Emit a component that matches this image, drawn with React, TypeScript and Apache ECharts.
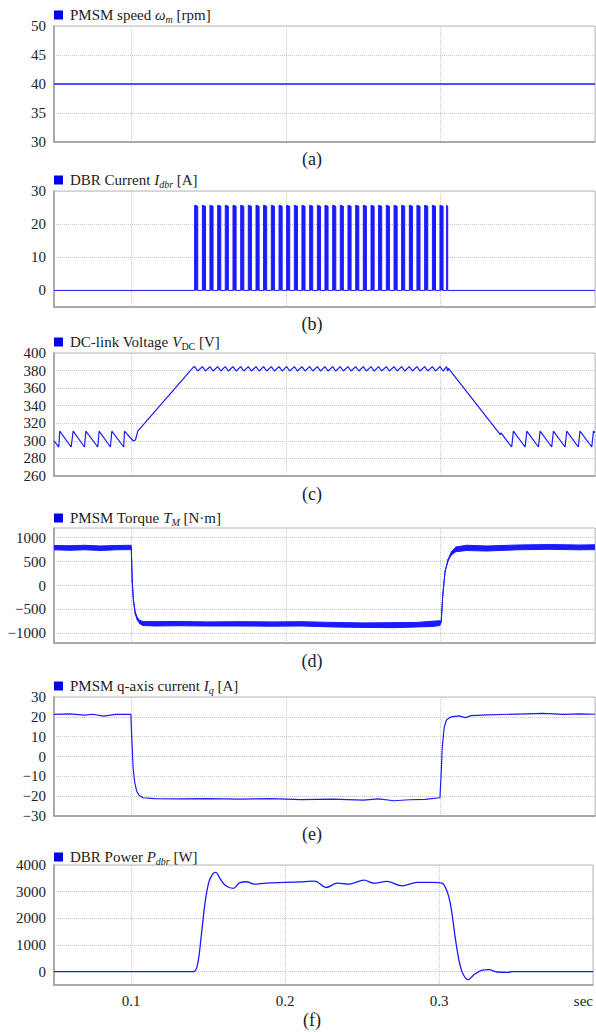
import React, { useEffect, useRef } from 'react';
import * as echarts from 'echarts';

const FONT = 'Liberation Serif';
const BLUE = '#1a1aff';
const ICON_BLUE = '#0000ee';
const GRID_C = '#cacaca';
const T = 'rgba(0,0,0,0)';

const X_MIN = 0.05;
const X_MAX = 0.4;

// (a) PMSM speed
const speedT = [0.05, 0.4];
const speedV = [40, 40];

// (b) DBR current pulses
const pulseOn = [0.1410, 0.1460, 0.1509, 0.1559, 0.1608, 0.1658, 0.1708, 0.1757, 0.1807, 0.1856, 0.1906, 0.1956, 0.2005, 0.2055, 0.2104, 0.2154, 0.2204, 0.2253, 0.2303, 0.2352, 0.2402, 0.2452, 0.2501, 0.2551, 0.2600, 0.2650, 0.2700, 0.2749, 0.2799, 0.2848, 0.2898, 0.2948, 0.2997, 0.3040];
const pulseOff = [0.1430, 0.1480, 0.1529, 0.1579, 0.1628, 0.1678, 0.1728, 0.1777, 0.1827, 0.1876, 0.1926, 0.1976, 0.2025, 0.2075, 0.2124, 0.2174, 0.2224, 0.2273, 0.2323, 0.2372, 0.2422, 0.2472, 0.2521, 0.2571, 0.2620, 0.2670, 0.2720, 0.2769, 0.2819, 0.2868, 0.2918, 0.2968, 0.3017, 0.3047];
const idbrTop = [25.7, 25.4];

// (c) DC-link voltage
const vdcPreT = [0.05, 0.0531, 0.0537, 0.0611, 0.0624, 0.0697, 0.0706, 0.0783, 0.0792, 0.0865, 0.0874, 0.0951, 0.0956, 0.1007, 0.1012, 0.1027, 0.1042, 0.1402];
const vdcPreV = [300, 293, 311, 293, 311, 293, 311, 293, 311, 293, 311, 293, 311, 301, 300, 301, 311, 384];
const vdcHigh = 384.5;
const vdcLow = 379.5;
const vdcPostT = [0.3052, 0.3387, 0.3392, 0.3461, 0.3472, 0.3548, 0.3559, 0.3634, 0.3645, 0.3720, 0.3731, 0.3806, 0.3817, 0.3892, 0.3903, 0.3979, 0.3990, 0.4];
const vdcPostV = [382.5, 307, 309, 293, 311, 293, 311, 293, 311, 293, 311, 293, 311, 293, 311, 293, 311, 309.5];

// (d) PMSM torque (noise band envelope)
const torqueT = [0.05, 0.06, 0.07, 0.08, 0.09, 0.0997, 0.1000, 0.1006, 0.1014, 0.1026, 0.1039, 0.1055, 0.1076, 0.115, 0.13, 0.15, 0.17, 0.19, 0.21, 0.23, 0.25, 0.27, 0.285, 0.295, 0.2995, 0.3005, 0.3015, 0.3030, 0.3050, 0.3072, 0.310, 0.317, 0.33, 0.35, 0.37, 0.39, 0.4];
const torqueHi = [835, 830, 840, 825, 835, 840, 790, 100, -300, -560, -670, -730, -750, -755, -750, -760, -755, -760, -755, -770, -780, -775, -770, -745, -735, -760, -200, 300, 550, 710, 805, 840, 825, 845, 855, 845, 850];
const torqueLo = [745, 735, 745, 730, 745, 750, 770, 80, -330, -600, -720, -800, -835, -845, -840, -845, -845, -850, -845, -865, -875, -880, -865, -855, -835, -770, -210, 290, 520, 640, 705, 730, 720, 745, 755, 745, 750];

// (e) PMSM q-axis current
const iqT = [0.05, 0.06, 0.07, 0.075, 0.082, 0.09, 0.0997, 0.1004, 0.1012, 0.1022, 0.1035, 0.1050, 0.1076, 0.115, 0.13, 0.15, 0.17, 0.19, 0.21, 0.23, 0.25, 0.26, 0.27, 0.28, 0.29, 0.2997, 0.3004, 0.3012, 0.3025, 0.3040, 0.3070, 0.3120, 0.3160, 0.3200, 0.3300, 0.3500, 0.3660, 0.3800, 0.3900, 0.4];
const iqV = [21.2, 21.5, 20.9, 21.3, 20.4, 21.2, 21.3, 8, -6, -13, -17.5, -19.5, -20.8, -21.2, -21.4, -21.2, -21.5, -21.2, -21.7, -21.5, -22.0, -21.4, -22.3, -21.8, -21.6, -20.8, -10, 5, 15, 18.5, 20, 20.5, 19.6, 20.6, 21.0, 21.4, 21.7, 21.2, 21.5, 21.3];

// (f) DBR power
const powT = [0.05, 0.1405, 0.1432, 0.1456, 0.1481, 0.1505, 0.1530, 0.1550, 0.1580, 0.1616, 0.1665, 0.1702, 0.1750, 0.1799, 0.1873, 0.1996, 0.2119, 0.2193, 0.2267, 0.2340, 0.2414, 0.2513, 0.2575, 0.2661, 0.2760, 0.2858, 0.2956, 0.3018, 0.3055, 0.3080, 0.3104, 0.3129, 0.3153, 0.3190, 0.3227, 0.3276, 0.3326, 0.3375, 0.3449, 0.3474, 0.4];
const powV = [0, 0, 264, 1333, 2590, 3346, 3660, 3723, 3472, 3220, 3120, 3320, 3371, 3283, 3320, 3346, 3371, 3396, 3157, 3320, 3283, 3434, 3320, 3384, 3220, 3346, 3346, 3320, 2968, 2340, 1333, 453, -50, -302, -113, 50, 75, -13, -25, 0, 0];

// Layout of the six panels
const panels = [
  { top: 26, height: 116, legendC: 15, capC: 159, cap: '(a)', name: 'PMSM speed', legend: 'PMSM speed {i|ω}{si|m} [rpm]', yMin: 30, yMax: 50, yInt: 5, labelEvery: 5, split: [GRID_C] },
  { top: 191, height: 116, legendC: 180, capC: 324, cap: '(b)', name: 'DBR Current', legend: 'DBR Current {i|I}{si|dbr} [A]', yMin: -5, yMax: 30, yInt: 5, labelEvery: 10, split: [T, GRID_C] },
  { top: 353, height: 123, legendC: 342, capC: 494, cap: '(c)', name: 'DC-link Voltage', legend: 'DC-link Voltage {i|V}{s|DC} [V]', yMin: 260, yMax: 400, yInt: 20, labelEvery: 20, split: [GRID_C] },
  { top: 528, height: 115, legendC: 518, capC: 661, cap: '(d)', name: 'PMSM Torque', legend: 'PMSM Torque {i|T}{si|M} [N·m]', yMin: -1200, yMax: 1200, yInt: 100, labelEvery: 500, split: [T, T, GRID_C, T, T] },
  { top: 697, height: 119, legendC: 686, capC: 834, cap: '(e)', name: 'PMSM q-axis current', legend: 'PMSM q-axis current {i|I}{si|q} [A]', yMin: -30, yMax: 30, yInt: 10, labelEvery: 10, split: [GRID_C] },
  { top: 865, height: 120, legendC: 857, capC: 1020, cap: '(f)', name: 'DBR Power', legend: 'DBR Power {i|P}{si|dbr} [W]', yMin: -500, yMax: 4000, yInt: 500, labelEvery: 1000, split: [T, GRID_C] },
];

const zip = (a: number[], b: number[]) => a.map((v, i) => [v, b[i]]);

function buildIdbr() {
  const d: number[][] = [[X_MIN, 0]];
  pulseOn.forEach((on, k) => {
    const off = pulseOff[k];
    d.push([on, 0], [on, idbrTop[0]], [off, idbrTop[1]], [off, 0]);
  });
  d.push([X_MAX, 0]);
  return d;
}

function buildVdc() {
  const d: number[][] = zip(vdcPreT, vdcPreV);
  pulseOn.forEach((on, k) => {
    d.push([on, vdcHigh], [pulseOff[k], vdcLow]);
  });
  return d.concat(zip(vdcPostT, vdcPostV));
}

const fmtNum = (v: number) => (v < 0 ? '\u2212' + Math.abs(v) : String(v));

export default function App() {
  const ref = useRef<HTMLDivElement>(null);
  useEffect(() => {
    document.body.style.margin = '0';
    if (!ref.current) return;
    const chart = echarts.init(ref.current, undefined, { renderer: 'svg' });

    const labelText = { fontFamily: FONT, fontSize: 15, color: '#222' };

    const grid = panels.map((p) => ({
      left: 54, right: 1, top: p.top, height: p.height,
      show: true, borderColor: '#bbb', borderWidth: 1, containLabel: false,
    }));

    const xAxis = panels.map((p, i) => ({
      type: 'value', gridIndex: i, min: X_MIN, max: X_MAX, interval: 0.05,
      axisLine: { show: true, onZero: false, lineStyle: { color: '#999', width: 1.5 } },
      axisTick: { show: false },
      splitLine: { show: true, lineStyle: { color: [T, GRID_C], type: 'dotted', width: 1 } },
      axisLabel: {
        show: i === panels.length - 1,
        ...labelText, margin: 8,
        alignMaxLabel: 'right',
        formatter: (v: number) => {
          const k = Math.round(v * 100);
          if (k === 40) return 'sec';
          if (k % 10 === 0) return (k / 100).toFixed(1);
          return '';
        },
      },
    }));

    const yAxis = panels.map((p, i) => ({
      type: 'value', gridIndex: i, min: p.yMin, max: p.yMax, interval: p.yInt,
      axisLine: { show: true, lineStyle: { color: '#999', width: 1.5 } },
      axisTick: { show: false },
      splitLine: { show: true, lineStyle: { color: p.split, type: 'dotted', width: 1 } },
      axisLabel: {
        ...labelText, margin: 8,
        formatter: (v: number) => (Math.round(v) % p.labelEvery === 0 ? fmtNum(Math.round(v)) : ''),
      },
    }));

    const richStyles = {
      i: { fontFamily: FONT, fontSize: 15, fontStyle: 'italic', color: '#222', lineHeight: 18 },
      si: { fontFamily: FONT, fontSize: 10, fontStyle: 'italic', color: '#222', lineHeight: 10, verticalAlign: 'bottom' },
      s: { fontFamily: FONT, fontSize: 10, color: '#222', lineHeight: 10, verticalAlign: 'bottom' },
    };

    const legend = panels.map((p) => ({
      data: [p.name], left: 54, top: p.legendC - 9, padding: 0,
      icon: 'rect', itemWidth: 9, itemHeight: 9, itemGap: 0,
      selectedMode: false,
      itemStyle: { color: ICON_BLUE },
      textStyle: { fontFamily: FONT, fontSize: 15, color: '#222', lineHeight: 18, padding: [0, 0, 0, 2], rich: richStyles },
      formatter: () => p.legend,
    }));

    const base = (i: number) => ({
      type: 'line', xAxisIndex: i, yAxisIndex: i, showSymbol: false, symbol: 'none',
      animation: false, emphasis: { disabled: true }, silent: true,
      itemStyle: { color: BLUE },
    });

    const torqueData = torqueT.map((t, k) => [t, torqueHi[k], torqueLo[k]]);

    const series: any[] = [
      { ...base(0), name: 'PMSM speed', data: zip(speedT, speedV), lineStyle: { color: BLUE, width: 1.5 } },
      { ...base(1), name: 'DBR Current', data: buildIdbr(), lineStyle: { color: BLUE, width: 1 }, areaStyle: { color: BLUE, opacity: 1 } },
      { ...base(2), name: 'DC-link Voltage', data: buildVdc(), lineStyle: { color: BLUE, width: 1.2 } },
      {
        type: 'custom', name: 'PMSM Torque', xAxisIndex: 3, yAxisIndex: 3, silent: true,
        itemStyle: { color: BLUE }, clip: true,
        encode: { x: 0, y: [1, 2] },
        data: torqueData,
        renderItem: (params: any, api: any) => {
          const k = params.dataIndex;
          if (k >= torqueData.length - 1) return null;
          const a = torqueData[k];
          const b = torqueData[k + 1];
          const pts = [
            api.coord([a[0], a[1]]),
            api.coord([b[0], b[1]]),
            api.coord([b[0], b[2]]),
            api.coord([a[0], a[2]]),
          ];
          return {
            type: 'polygon',
            shape: { points: pts },
            style: { fill: BLUE, stroke: BLUE, lineWidth: 1 },
          };
        },
      },
      { ...base(4), name: 'PMSM q-axis current', data: zip(iqT, iqV), lineStyle: { color: BLUE, width: 1.2 } },
      { ...base(5), name: 'DBR Power', data: zip(powT, powV), smooth: 0.35, lineStyle: { color: BLUE, width: 1.3 } },
    ];

    const graphic = panels.map((p) => ({
      type: 'text', x: 312, y: p.capC, silent: true,
      style: { text: p.cap, font: '18px ' + FONT, fill: '#222', align: 'center', verticalAlign: 'middle' },
    }));

    chart.setOption({
      animation: false,
      backgroundColor: '#fff',
      textStyle: { fontFamily: FONT },
      grid, xAxis, yAxis, legend, series, graphic,
    });
    return () => chart.dispose();
  }, []);
  return <div ref={ref} style={{ position: 'absolute', left: 0, top: 0, width: 596, height: 1032 }} />;
}
